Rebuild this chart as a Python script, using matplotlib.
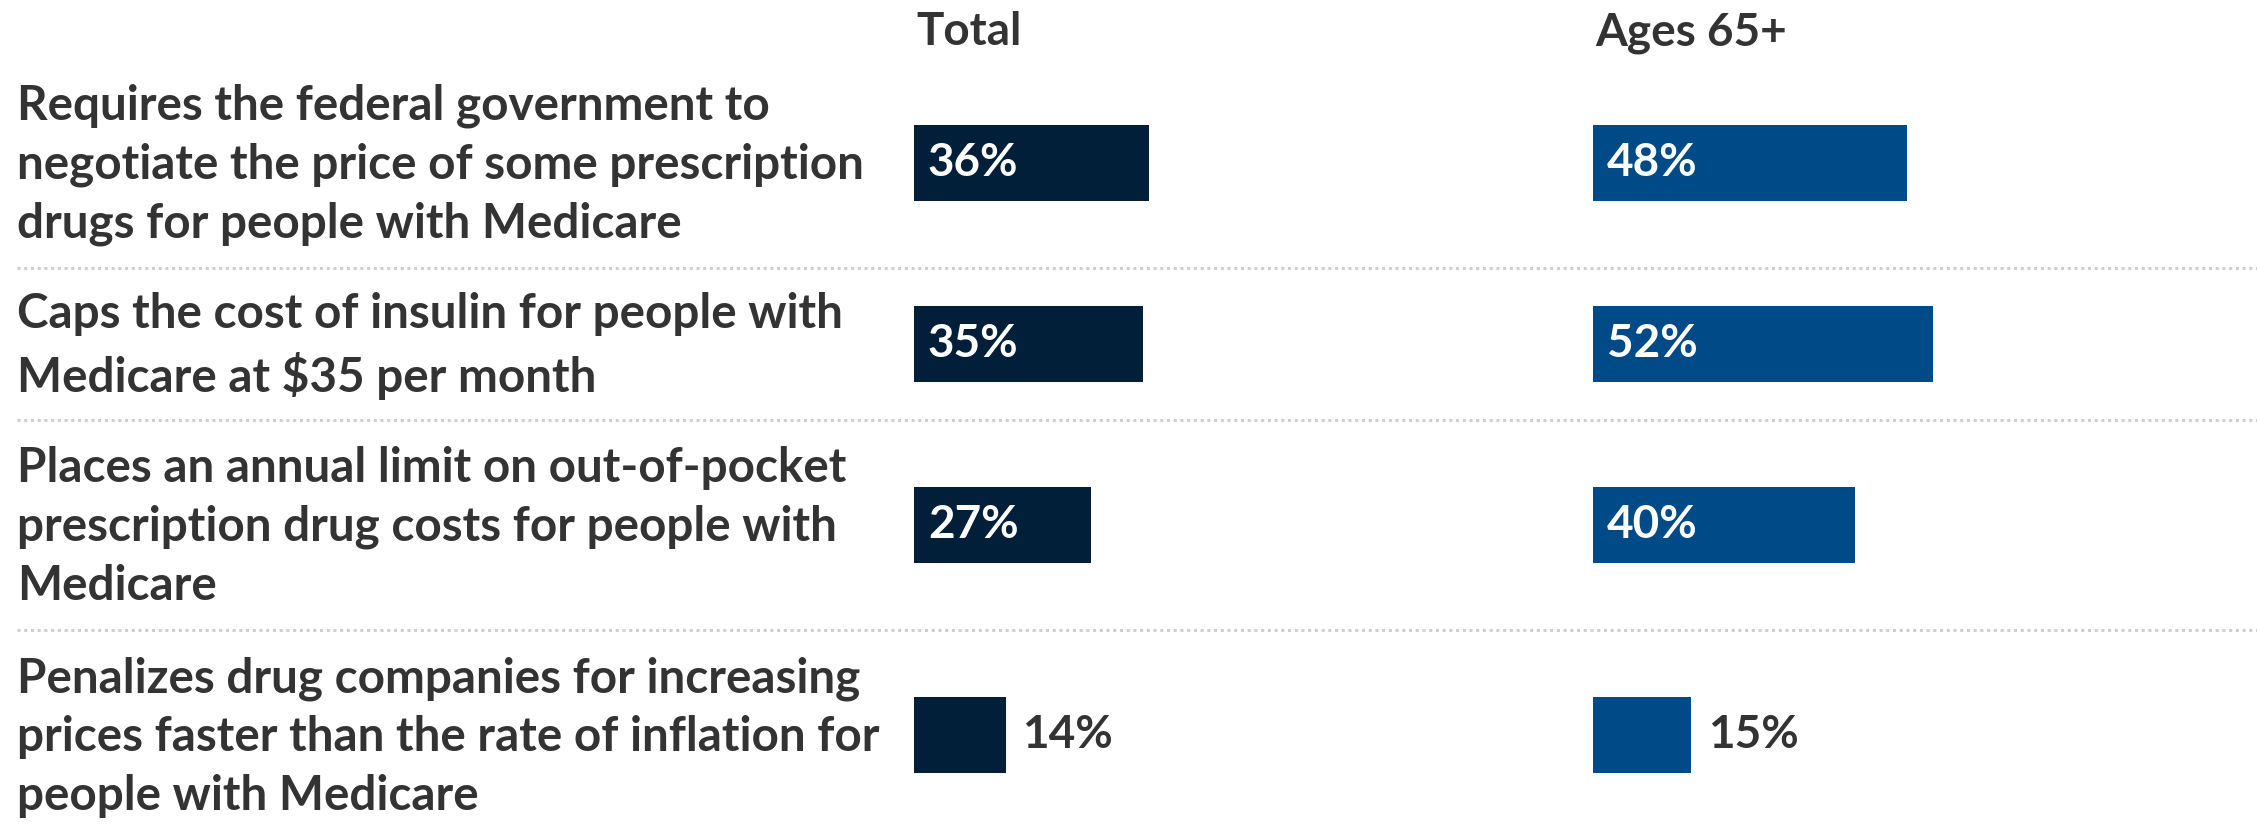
import matplotlib.pyplot as plt

# Data
labels = [
    "Requires the federal government to\nnegotiate the price of some prescription\ndrugs for people with Medicare",
    "Caps the cost of insulin for people with\nMedicare at $35 per month",
    "Places an annual limit on out-of-pocket\nprescription drug costs for people with\nMedicare",
    "Penalizes drug companies for increasing\nprices faster than the rate of inflation for\npeople with Medicare",
]
groups = ["Total", "Ages 65+"]
total_vals = [36, 35, 27, 14]
ages_vals = [48, 52, 40, 15]

colors = ["#011f38", "#004b87"]
txt_color = "#333333"
plt.rcParams["font.family"] = ["Lato", "DejaVu Sans"]

W, H = 2257, 826
fig = plt.figure(figsize=(W / 100, H / 100), dpi=100)

base = fig.add_axes([0, 0, 1, 1])
base.set_xlim(0, W)
base.set_ylim(H, 0)
base.axis("off")

# row layout in pixels: each row grows with its number of text lines
line_h, pad, top = 58, 36, 58
centers, seps = [], []
y = top
for lab in labels:
    n = lab.count("\n") + 1
    h = n * line_h + pad
    centers.append(y + h / 2)
    y += h
    seps.append(y)

fs = 34.3
fs_num = 33
for lab, c in zip(labels, centers):
    base.text(17, c + 2, lab, va="center", ha="left", fontsize=fs, color=txt_color,
              fontweight="bold", linespacing=1.4)
for s in seps[:-1]:
    base.plot([17, W], [s, s], color="#cfcfcf", lw=2.2, ls=(0, (1, 1.2)))

scale_w = 654  # pixels for 100%
for i, (vals, left) in enumerate(zip([total_vals, ages_vals], [914, 1593])):
    ax = fig.add_axes([left / W, 0, scale_w / W, 1])
    ax.set_xlim(0, 100)
    ax.set_ylim(H, 0)
    ax.axis("off")
    ax.barh(centers, vals, height=76, color=colors[i])
    ax.text(0.4, 45, groups[i], fontsize=fs_num, color=txt_color, fontweight="bold",
            va="baseline", ha="left")
    for v, c in zip(vals, centers):
        if v >= 20:
            ax.annotate(f"{v}%", xy=(0, c), xytext=(10, 0), textcoords="offset points",
                        va="center", ha="left", fontsize=fs_num, color="white",
                        fontweight="bold")
        else:
            ax.annotate(f"{v}%", xy=(v, c), xytext=(12, 0), textcoords="offset points",
                        va="center", ha="left", fontsize=fs_num, color=txt_color,
                        fontweight="bold")

fig.savefig("out.png", dpi=100)
